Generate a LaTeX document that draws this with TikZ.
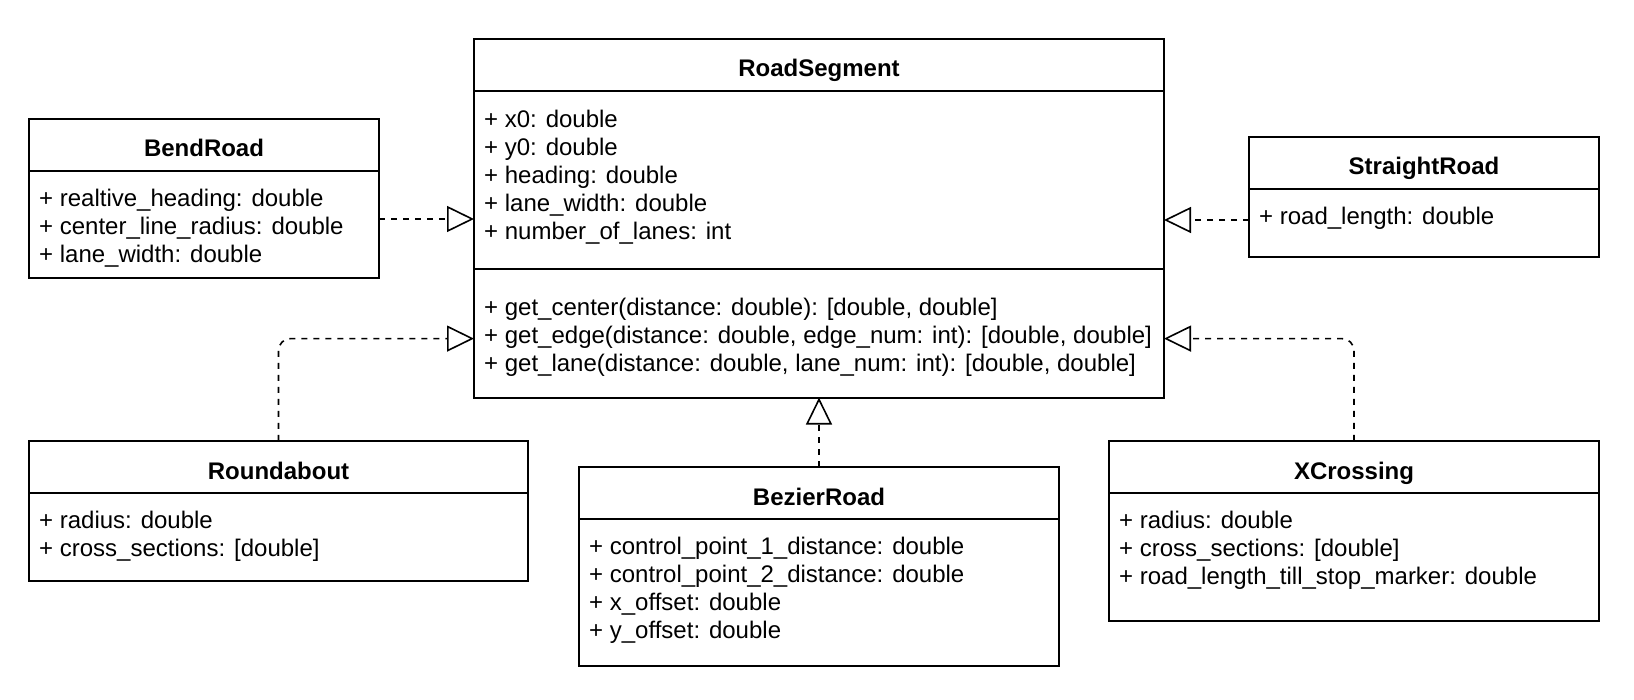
\documentclass[tikz,border=0pt]{standalone}
\usepackage{fontspec}
\setmainfont{Liberation Sans}
\usepackage{tikz}
\usetikzlibrary{positioning}
\usetikzlibrary{arrows.meta}

\newcommand{\umlfont}{\fontsize{24}{28}\selectfont}
\tikzset{
  classhead/.style={draw, line width=2pt, inner sep=0pt, outer sep=0pt, minimum height=52pt, font=\umlfont\bfseries, text height=24pt, text depth=0pt},
  classbody/.style={draw, line width=2pt, inner sep=0pt, outer sep=0pt},
  members/.style={inner sep=0pt, align=left, font=\umlfont},
  realizes/.style={line width=1.6pt, dash pattern=on 6pt off 6pt, -{Triangle[open, length=27pt, width=26pt, line width=1.6pt]}}
}

\begin{document}
\begin{tikzpicture}[x=1pt, y=-1pt]
\useasboundingbox (0,0) rectangle (1634,700);

% base class
\node[classhead, minimum width=690pt] (rs) at (819,64.6) {RoadSegment};
\node[classbody, minimum width=690pt, minimum height=178pt, below=0pt of rs] (rsattr) {};
\node[classbody, minimum width=690pt, minimum height=129pt, below=0pt of rsattr] (rsmeth) {};
\node[members, below right=16.5pt and 10pt of rsattr.north west] (rsattrtext) {\rule{0pt}{20pt}+ x0: double\\+ y0: double\\+ heading: double\\+ lane\_width: double\\+ number\_of\_lanes: int};
\node[members, below right=26.5pt and 10pt of rsmeth.north west] (rsmethtext) {\rule{0pt}{20pt}+ get\_center(distance: double): [double, double]\\+ get\_edge(distance: double, edge\_num: int): [double, double]\\+ get\_lane(distance: double, lane\_num: int): [double, double]};

% subclasses
\node[classhead, minimum width=350pt] (bend) at (204,145) {BendRoad};
\node[classbody, minimum width=350pt, minimum height=107pt, below=0pt of bend] (bendbody) {};
\node[members, below right=15pt and 10pt of bendbody.north west] (bendtext) {\rule{0pt}{20pt}+ realtive\_heading: double\\+ center\_line\_radius: double\\+ lane\_width: double};

\node[classhead, minimum width=350pt] (straight) at (1424,163) {StraightRoad};
\node[classbody, minimum width=350pt, minimum height=68pt, below=0pt of straight] (straightbody) {};
\node[members, below right=15pt and 10pt of straightbody.north west] (straighttext) {\rule{0pt}{20pt}+ road\_length: double};

\node[classhead, minimum width=499pt] (round) at (278.5,467) {Roundabout};
\node[classbody, minimum width=499pt, minimum height=88pt, below=0pt of round] (roundbody) {};
\node[members, below right=15pt and 10pt of roundbody.north west] (roundtext) {\rule{0pt}{20pt}+ radius: double\\+ cross\_sections: [double]};

\node[classhead, minimum width=480pt] (bezier) at (819,493) {BezierRoad};
\node[classbody, minimum width=480pt, minimum height=147pt, below=0pt of bezier] (bezierbody) {};
\node[members, below right=15pt and 10pt of bezierbody.north west] (beziertext) {\rule{0pt}{20pt}+ control\_point\_1\_distance: double\\+ control\_point\_2\_distance: double\\+ x\_offset: double\\+ y\_offset: double};

\node[classhead, minimum width=490pt] (xcross) at (1354,467) {XCrossing};
\node[classbody, minimum width=490pt, minimum height=128pt, below=0pt of xcross] (xcrossbody) {};
\node[members, below right=15pt and 10pt of xcrossbody.north west] (xcrosstext) {\rule{0pt}{20pt}+ radius: double\\+ cross\_sections: [double]\\+ road\_length\_till\_stop\_marker: double};

% realizations
\coordinate (bendout) at ([yshift=5.5pt]bendbody.east);
\coordinate (straightout) at ([yshift=3pt]straightbody.west);
\coordinate (rsleft) at ([yshift=-5.5pt]rsmeth.west);
\coordinate (rsright) at ([yshift=-5.5pt]rsmeth.east);
\draw[realizes] (bendout) -- (bendout -| rsattr.west);
\draw[realizes] (straightout) -- (straightout -| rsattr.east);
\draw[realizes, rounded corners=12pt] (round.north) |- (rsleft);
\draw[realizes, rounded corners=12pt] (xcross.north) |- (rsright);
\draw[realizes] (bezier.north) -- (rsmeth.south);
\end{tikzpicture}
\end{document}
